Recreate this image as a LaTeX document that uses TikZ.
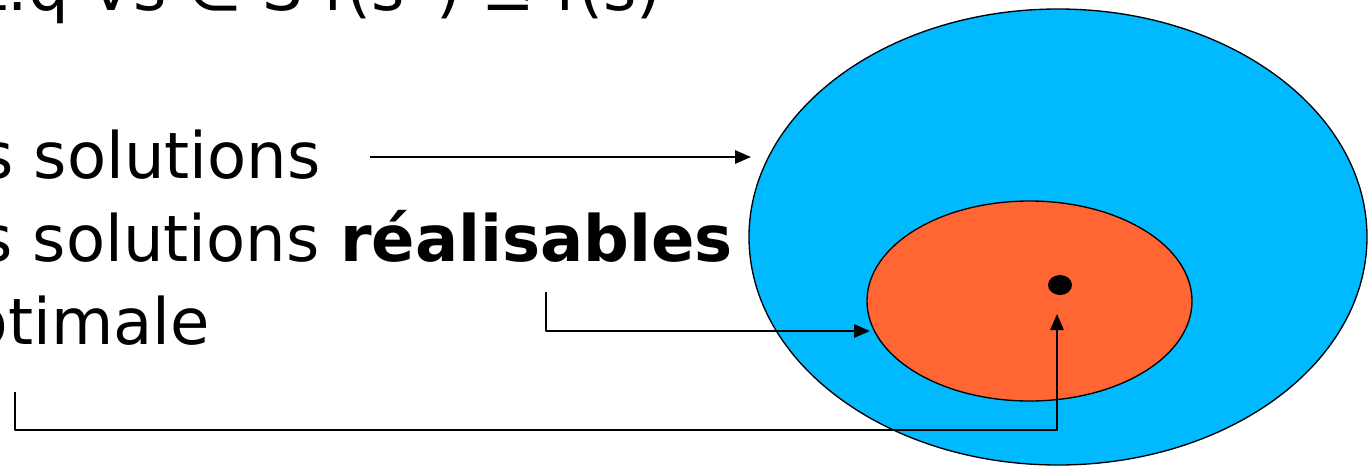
\documentclass[tikz,border=0pt]{standalone}
\usepackage{fontspec}
\setmainfont{DejaVu Sans}
\usetikzlibrary{arrows.meta, shapes.geometric, calc}

\definecolor{ciel}{RGB}{0,185,255}
\definecolor{corail}{RGB}{255,102,51}

\begin{document}
\begin{tikzpicture}[x=0.75pt, y=-0.75pt, >={Triangle[length=12pt, width=10pt]}, line join=round,
    ligne/.style={inner sep=0pt, anchor=base east, font=\fontsize{48}{58}\selectfont},
    fleche/.style={->, line width=1.5pt},
    ensemble/.style={ellipse, draw=black, line width=1pt, inner sep=0pt}]
    \useasboundingbox (0,0) rectangle (1368,465);
    \clip (0,0) rectangle (1368,465);

    % les ensembles
    \node[ensemble, fill=ciel, minimum width=463.5pt, minimum height=342pt] (espace) at (1058,237) {};
    \node[ensemble, fill=corail, minimum width=243.75pt, minimum height=150pt] (realisable) at (1029.5,301) {};
    \node[ellipse, fill=black, inner sep=0pt, minimum width=18pt, minimum height=15pt] (optimum) at (1060,285) {};

    % les textes
    \node[ligne] (critere) at (662,10) {t.q ∀s ∈ S f(s*) ≤ f(s)};
    \node[ligne] (solutions) at (321,178) {s solutions};
    \node[ligne] (realisables) at (733,261) {s solutions \textbf{réalisables}};
    \node[ligne] (optimale) at (210,344) {optimale};

    % les fleches
    \coordinate (d1) at (370,157);
    \coordinate (f1) at (751,157);
    \coordinate (d2) at (546,292);
    \coordinate (f2) at (870,331);
    \coordinate (d3) at (15,392);
    \coordinate (c3) at (1057,430);
    \coordinate (f3) at (1057,314);
    \draw[fleche] (d1) -- (f1);
    \draw[fleche] (d2) |- (f2);
    \draw[fleche] (d3) |- (c3) -- (f3);
\end{tikzpicture}
\end{document}
